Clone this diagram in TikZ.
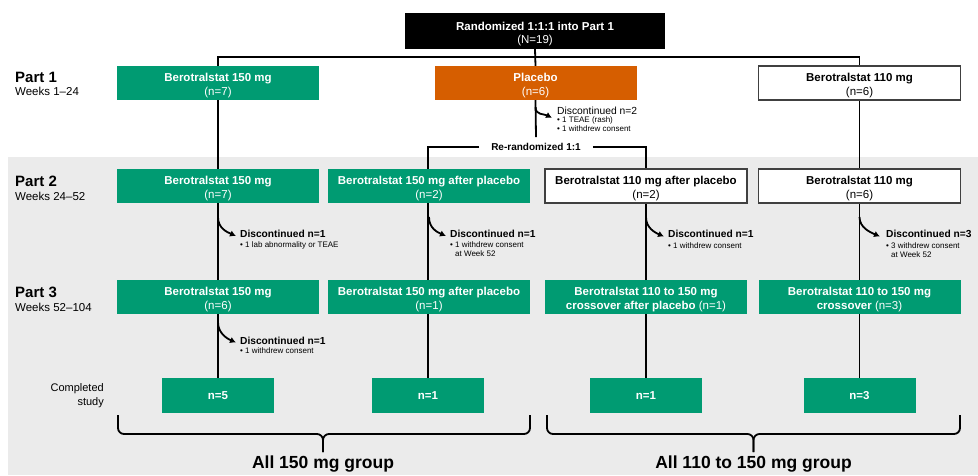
\documentclass[tikz,border=0pt]{standalone}
\usepackage{fontspec}
\setmainfont{Liberation Sans}
\usetikzlibrary{arrows.meta,positioning,backgrounds,calc}
\definecolor{trialgreen}{RGB}{0,155,114}
\definecolor{pboorange}{RGB}{214,94,0}
\definecolor{panelgray}{RGB}{235,235,235}
\definecolor{edgegray}{RGB}{64,64,64}

\begin{document}
\begin{tikzpicture}[
  x=1pt, y=-1pt,
  every node/.style={inner sep=0pt},
  box/.style={minimum width=202pt, minimum height=34pt, align=center,
    font=\fontsize{11.5}{14}\selectfont, execute at begin node={\rule{0pt}{28pt}}},
  greenbox/.style={box, fill=trialgreen, text=white},
  openbox/.style={box, fill=white, draw=edgegray, line width=1.4pt},
  donebox/.style={fill=trialgreen, text=white, minimum width=112pt,
    minimum height=35pt, font=\fontsize{11.5}{14}\selectfont\bfseries},
  partlbl/.style={anchor=base west, font=\fontsize{15}{18}\selectfont\bfseries},
  weeks/.style={anchor=base west, font=\fontsize{11.5}{14}\selectfont},
  disc/.style={anchor=base west, font=\fontsize{10.2}{12}\selectfont\bfseries},
  note/.style={align=left, font=\fontsize{8}{9}\selectfont},
  link/.style={line width=1.8pt},
  drop/.style={link, -{Latex[length=6pt,width=6.5pt]}},
  brace/.style={line width=1.8pt, rounded corners=6pt},
  group/.style={font=\fontsize{17.5}{20}\selectfont\bfseries}
]
\useasboundingbox (0,0) rectangle (978,475);
\begin{pgfonlayer}{background}
\fill[panelgray] (8,157) rectangle (978,475);
\end{pgfonlayer}

% randomization
\node[fill=black, text=white, minimum width=260pt, minimum height=36pt, align=center,
  font=\fontsize{11.5}{13}\selectfont, execute at begin node={\rule{0pt}{27pt}}] (rand) at (535,31)
  {\textbf{Randomized 1:1:1 into Part 1}\\(N=19)};

% row labels
\node[partlbl] (part1) at (15,82) {Part 1};
\node[weeks] (wk1) at (15,95) {Weeks 1--24};
\node[partlbl] (part2) at (15,186) {Part 2};
\node[weeks] (wk2) at (15,200) {Weeks 24--52};
\node[partlbl] (part3) at (15,297) {Part 3};
\node[weeks] (wk3) at (15,311) {Weeks 52--104};
\node[align=right, anchor=east, font=\fontsize{11}{13.5}\selectfont] (donelbl) at (104,395.5) {Completed\\study};

% part 1
\node[greenbox] (p1a) at (218,83) {\textbf{Berotralstat 150 mg}\\(n=7)};
\node[box, fill=pboorange, text=white] (p1b) at (535.5,83) {\textbf{Placebo}\\(n=6)};
\node[openbox] (p1c) at (859.5,83) {\textbf{Berotralstat 110 mg}\\(n=6)};
\node[font=\fontsize{10}{12}\selectfont\bfseries, inner xsep=12pt, inner ysep=6pt] (rerand) at (536,147) {Re-randomized 1:1};

% part 2
\node[greenbox] (p2a) at (218,186) {\textbf{Berotralstat 150 mg}\\(n=7)};
\node[greenbox] (p2b) at (429,186) {\textbf{Berotralstat 150 mg after placebo}\\(n=2)};
\node[openbox] (p2c) at (646,186) {\textbf{Berotralstat 110 mg after placebo}\\(n=2)};
\node[openbox] (p2d) at (859.5,186) {\textbf{Berotralstat 110 mg}\\(n=6)};

% part 3
\node[greenbox] (p3a) at (218,297) {\textbf{Berotralstat 150 mg}\\(n=6)};
\node[greenbox] (p3b) at (429,297) {\textbf{Berotralstat 150 mg after placebo}\\(n=1)};
\node[greenbox] (p3c) at (646,297) {\textbf{Berotralstat 110 to 150 mg}\\\textbf{crossover after placebo} (n=1)};
\node[greenbox] (p3d) at (859.5,297) {\textbf{Berotralstat 110 to 150 mg}\\\textbf{crossover} (n=3)};

% completed
\node[donebox] (done1) at (218,395.5) {n=5};
\node[donebox] (done2) at (428,395.5) {n=1};
\node[donebox] (done3) at (646,395.5) {n=1};
\node[donebox] (done4) at (859.5,395.5) {n=3};

% discontinuations
\node[disc, font=\fontsize{10.3}{12}\selectfont] (dpbo) at (557,114) {Discontinued n=2};
\node[note, below=2.5pt of dpbo.south west, anchor=north west] (npbo)
  {\textbullet\ 1 TEAE (rash)\\\textbullet\ 1 withdrew consent};
\node[disc] (d2a) at ($(p2a.south)+(22,34)$) {Discontinued n=1};
\node[note, below=4pt of d2a.south west, anchor=north west] (n2a)
  {\textbullet\ 1 lab abnormality or TEAE};
\node[disc] (d2b) at ($(p2b.south)+(21,34)$) {Discontinued n=1};
\node[note, below=4pt of d2b.south west, anchor=north west] (n2b)
  {\textbullet\ 1 withdrew consent\\\hphantom{\textbullet\ }at Week 52};
\node[disc] (d2c) at ($(p2c.south)+(22,34)$) {Discontinued n=1};
\node[note, below=4pt of d2c.south west, anchor=north west] (n2c)
  {\textbullet\ 1 withdrew consent};
\node[disc] (d2d) at ($(p2d.south)+(26.5,34)$) {Discontinued n=3};
\node[note, below=4pt of d2d.south west, anchor=north west] (n2d)
  {\textbullet\ 3 withdrew consent\\\hphantom{\textbullet\ }at Week 52};
\node[disc] (d3a) at ($(p3a.south)+(22,30)$) {Discontinued n=1};
\node[note, below=3pt of d3a.south west, anchor=north west] (n3a)
  {\textbullet\ 1 withdrew consent};

% group braces
\coordinate (tip150) at (323,452);
\coordinate (tip110) at (753.5,452);
\draw[brace] (118,415) |- (tip150 |- 0,434) -- (tip150);
\draw[brace] (530,415) |- (tip150 |- 0,434) -- (tip150);
\draw[brace] (547,415) |- (tip110 |- 0,434) -- (tip110);
\draw[brace] (960,415) |- (tip110 |- 0,434) -- (tip110);
\node[group, below=4pt of tip150] (g150) {All 150 mg group};
\node[group, below=4pt of tip110] (g110) {All 110 to 150 mg group};

\begin{pgfonlayer}{background}
\draw[link] (rand.south) -- (p1b.north);
\draw[link] (done1.north) |- ($(rand.south)+(0,8)$) -| (done4.north);
\draw[link] (p1b.south) -- (rerand.north);
\draw[link] (rerand.west) -| (done2.north);
\draw[link] (rerand.east) -| (done3.north);
\end{pgfonlayer}

\draw[drop] ($(p1b.south)+(0,7)$) .. controls +(0,8) and +(-8,-4) .. ($(dpbo.west)+(-5,7.5)$);
\draw[drop] ($(p2a.south)+(0,14)$) .. controls +(0,11) and +(-9,-4) .. ($(d2a.west)+(-4,2.5)$);
\draw[drop] ($(p2b.south |- 0,217)$) .. controls +(0,11) and +(-9,-4) .. ($(d2b.west)+(-4,2.5)$);
\draw[drop] ($(p2c.south |- 0,217)$) .. controls +(0,11) and +(-9,-4) .. ($(d2c.west)+(-4,2.5)$);
\draw[drop] ($(p2d.south |- 0,217)$) .. controls +(0,11) and +(-9,-4) .. ($(d2d.west)+(-6,2.5)$);
\draw[drop] ($(p3a.south)+(0,8)$) .. controls +(0,11) and +(-9,-4) .. ($(d3a.west)+(-4,2)$);
\end{tikzpicture}
\end{document}
